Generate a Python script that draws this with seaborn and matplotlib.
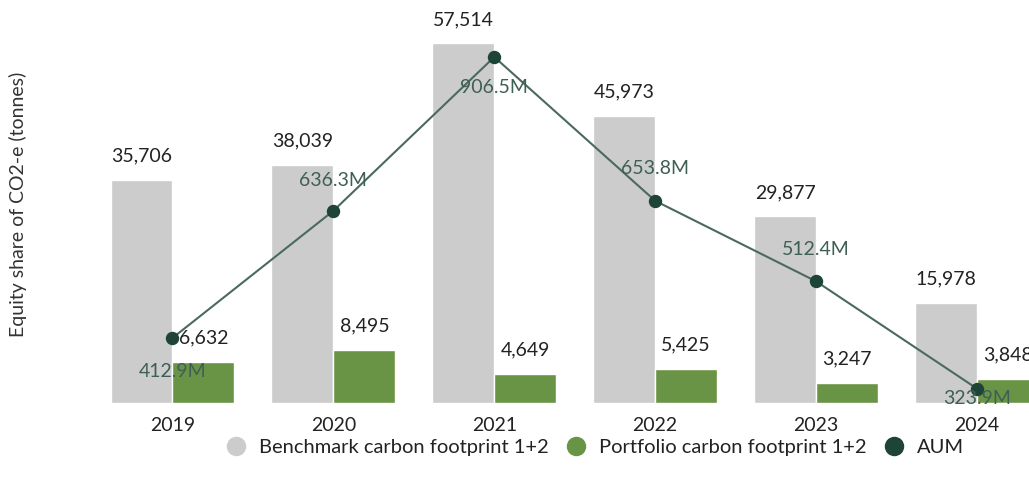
import matplotlib
matplotlib.use('Agg')
import matplotlib.pyplot as plt
from matplotlib.lines import Line2D
import pandas as pd
import seaborn as sns

# chart data
years = ['2019', '2020', '2021', '2022', '2023', '2024']
benchmark = [35706, 38039, 57514, 45973, 29877, 15978]
portfolio = [6632, 8495, 4649, 5425, 3247, 3848]
aum = [412.9, 636.3, 906.5, 653.8, 512.4, 323.9]
series_names = ['Benchmark carbon footprint 1+2', 'Portfolio carbon footprint 1+2']

grey = '#cccccc'
green = '#6a9445'
aum_dot = '#1d4436'
aum_line = '#4a6a5c'
text_col = '#222222'

df = pd.DataFrame({
    'year': years * 2,
    'value': benchmark + portfolio,
    'series': [series_names[0]] * len(years) + [series_names[1]] * len(years),
})

sns.set_style('white')
plt.rcParams['font.family'] = ['Lato', 'DejaVu Sans']

fig = plt.figure(figsize=(10.29, 4.86), dpi=100)
ax = fig.add_axes([92 / 1029, 1 - 403 / 486, 1 - 92 / 1029, 403 / 486])

sns.barplot(data=df, x='year', y='value', hue='series', order=years,
            hue_order=series_names, palette=[grey, green], width=0.77,
            gap=0, saturation=1, legend=False, ax=ax)

for cont in ax.containers:
    ax.bar_label(cont, labels=[f'{int(b.get_height()):,}' for b in cont],
                 padding=11, fontsize=14, color=text_col)

ax.set_ylim(0, 64450)
ax.set_xlabel('')
ax.set_ylabel('Equity share of CO2-e (tonnes)', fontsize=14, color='#333333')
ax.yaxis.set_label_coords(-0.069, 0.494)
ax.set_yticks([])
ax.tick_params(axis='x', length=0, pad=10, labelsize=14, labelcolor=text_col)
sns.despine(ax=ax, left=True, bottom=True)

# AUM on a hidden secondary axis
ax2 = ax.twinx()
sns.pointplot(x=years, y=aum, order=years, color=aum_line, markers='o',
              markersize=8.5, linewidth=1.5, ax=ax2,
              markerfacecolor=aum_dot, markeredgecolor=aum_dot)
ax2.set_ylim(298.7, 1006.6)
ax2.set_yticks([])
ax2.set_ylabel('')
for s in ax2.spines.values():
    s.set_visible(False)

# label offsets in points (dy), matching the original placement
aum_dy = [-24, 22, -22, 23, 23, -7]
for i, (v, dy) in enumerate(zip(aum, aum_dy)):
    ax2.annotate(f'{v}M', (i, v), xytext=(0, dy), textcoords='offset points',
                 ha='center', va='center', fontsize=14, color='#3e5f55')

ax.set_xlim(-0.5, (1029 - 172) / 161)

handles = [
    Line2D([], [], marker='o', ls='', ms=13, color=grey),
    Line2D([], [], marker='o', ls='', ms=13, color=green),
    Line2D([], [], marker='o', ls='', ms=13, color=aum_dot),
]
fig.legend(handles, series_names + ['AUM'], loc='center',
           bbox_to_anchor=(590 / 1029, 1 - 447 / 486), ncol=3, frameon=False,
           fontsize=14.5, handletextpad=0.1, columnspacing=0.4,
           labelcolor=text_col)

fig.savefig('out.png', dpi=100)
